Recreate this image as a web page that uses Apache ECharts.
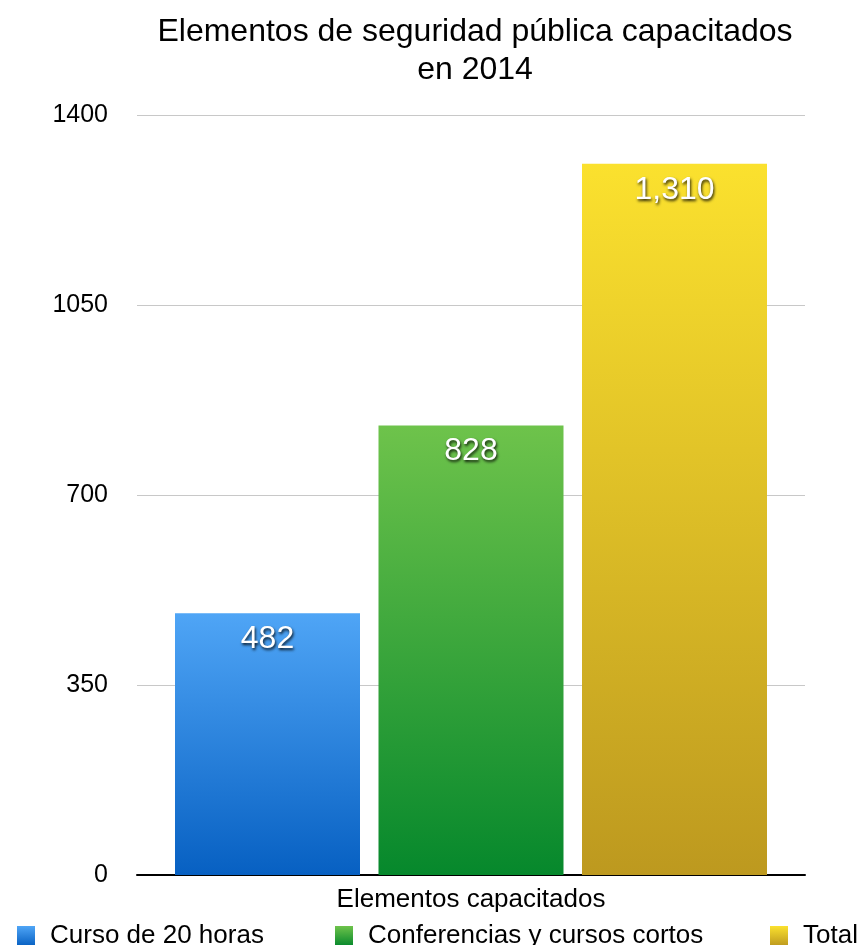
<!DOCTYPE html>
<html>
<head>
<meta charset="utf-8">
<script src="https://cdn.jsdelivr.net/npm/echarts@6/dist/echarts.min.js"></script>
<style>html,body{margin:0;padding:0;background:#fff}#c{width:860px;height:945px}</style>
</head>
<body>
<div id="c"></div>
<script>
const categories = ['Elementos capacitados'];
const seriesNames = ['Curso de 20 horas', 'Conferencias y cursos cortos', 'Total'];
const seriesValues = [[482], [828], [1310]];
const yTicks = [0, 350, 700, 1050, 1400];

const gradients = [
  ['#4fa5f6', '#0760c2'],
  ['#6ec34b', '#06882c'],
  ['#fbe12e', '#bd991f']
];
const font = 'Liberation Sans, Arial, Helvetica, sans-serif';
const chart = echarts.init(document.getElementById('c'));
const grad = (c) => new echarts.graphic.LinearGradient(0, 0, 0, 1, [{offset: 0, color: c[0]}, {offset: 1, color: c[1]}]);
const legendLefts = [12, 330, 765];

chart.setOption({
  animation: false,
  title: {
    text: 'Elementos de seguridad pública capacitados\nen 2014',
    left: 470, textAlign: 'center', top: 8,
    textStyle: {fontFamily: font, fontSize: 32, fontWeight: 'normal', color: '#000', lineHeight: 38}
  },
  legend: seriesNames.map((n, i) => ({
    data: [n], left: legendLefts[i], top: 918,
    itemWidth: 18, itemHeight: 20, itemGap: 0, icon: 'rect',
    textStyle: {fontFamily: font, fontSize: 26, color: '#000', padding: [0, 0, 0, 10]}
  })),
  grid: {left: 137, right: 55, top: 115, bottom: 70},
  xAxis: {
    type: 'category', data: categories,
    axisLine: {lineStyle: {color: '#000', width: 2}},
    axisTick: {show: false},
    axisLabel: {fontFamily: font, fontSize: 26, color: '#000', margin: 12}
  },
  yAxis: {
    type: 'value', min: yTicks[0], max: yTicks[yTicks.length - 1], interval: 350,
    axisLine: {show: false}, axisTick: {show: false},
    splitLine: {lineStyle: {color: '#c8c8c8', width: 1}},
    axisLabel: {fontFamily: font, fontSize: 25, color: '#000', margin: 29, formatter: (v) => String(v)}
  },
  series: seriesNames.map((n, i) => ({
    name: n, type: 'bar', data: seriesValues[i],
    barWidth: 185, barGap: '10%',
    itemStyle: {color: grad(gradients[i])},
    label: {
      show: true, position: 'insideTop', distance: 10,
      formatter: (p) => p.value.toLocaleString('en-US'),
      fontFamily: font, fontSize: 32, color: '#fff',
      textShadowColor: 'rgba(0,0,0,0.85)', textShadowBlur: 3, textShadowOffsetX: 1, textShadowOffsetY: 2
    }
  }))
});
</script>
</body>
</html>
